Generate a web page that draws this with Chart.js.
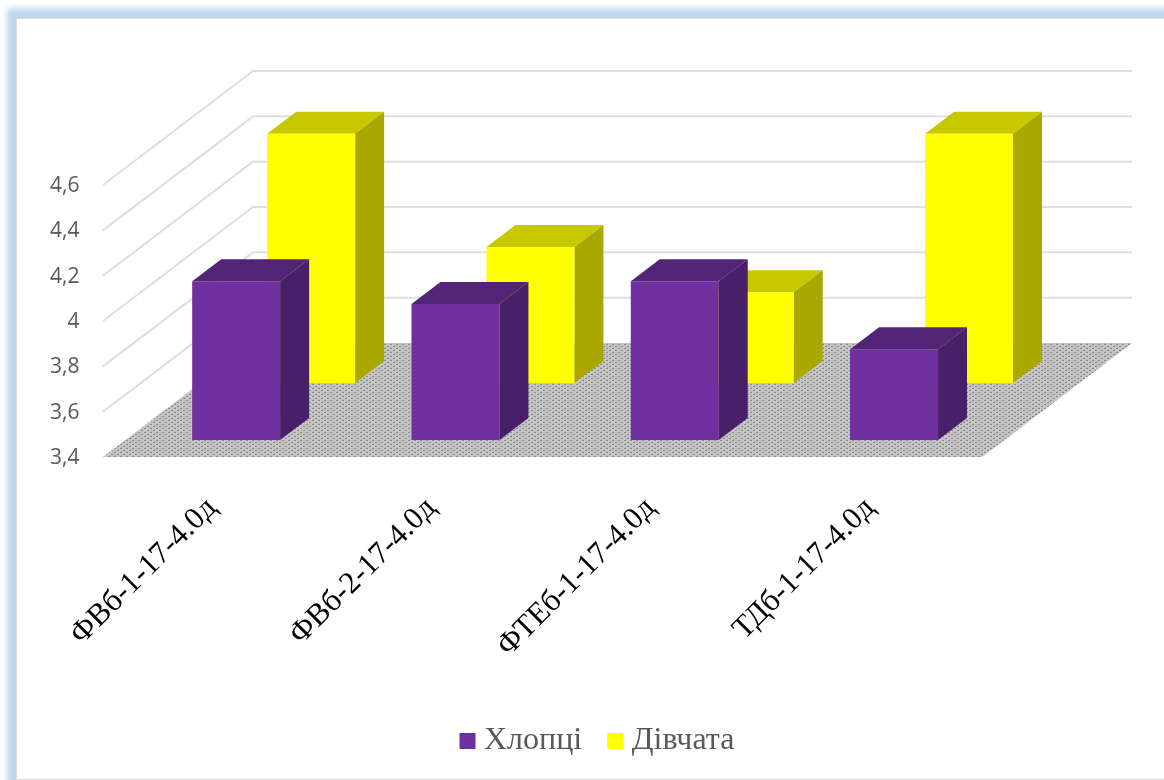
<!DOCTYPE html>
<html><head><meta charset="utf-8">
<script src="https://cdn.jsdelivr.net/npm/chart.js@4"></script>
<style>
html,body{margin:0;padding:0;background:#fff;overflow:hidden;width:1164px;height:780px}
#frame{position:absolute;left:16px;top:18px;width:1300px;height:760px;background:#fff;border:1px solid #dcdcdc;box-shadow:0 -1px 6px 9px #bed8ef}
#c{position:absolute;left:0;top:0}
</style></head><body>
<div id="frame"></div>
<canvas id="c" width="1164" height="780"></canvas>
<script>
const categories = ['ФВб-1-17-4.0д','ФВб-2-17-4.0д','ФТЕб-1-17-4.0д','ТДб-1-17-4.0д'];
const boys = [4.1,4.0,4.1,3.8];
const girls = [4.5,4.0,3.8,4.5];
const seriesNames = ['Хлопці','Дівчата'];
const yMin = 3.4, yMax = 4.6, yStep = 0.2;

const shift = [{x:0,y:-17,face:'#7030a0',side:'#481f69',top:'#522476'},
               {x:75,y:-74,face:'#ffff00',side:'#a8a800',top:'#c8c800'}];
const barDepth = {x:29,y:-22};
const floorDepth = {x:150,y:-114};

function floorPattern(ctx){
  const t=document.createElement('canvas');t.width=6;t.height=4;
  const g=t.getContext('2d');
  g.fillStyle='#c6c6c6';g.fillRect(0,0,6,4);
  g.fillStyle='#888888';
  g.fillRect(0,0,2,1);g.fillRect(3,2,2,1);
  g.fillStyle='#aeaeae';
  g.fillRect(4,1,1,1);g.fillRect(1,3,1,1);
  return ctx.createPattern(t,'repeat');
}
const scene = {
  id:'scene',
  afterLayout(chart){
    chart.legend.left = 434.5;
  },
  beforeDatasetsDraw(chart){
    const {ctx,scales:{x,y}} = chart;
    const fl = x.left-23.5, fr = x.right-21.5, b = y.getPixelForValue(yMin);
    ctx.save();
    ctx.strokeStyle='#dedede';ctx.lineWidth=2;
    y.ticks.forEach(t=>{
      if(t.value<=yMin) return;
      const p=y.getPixelForValue(t.value);
      ctx.beginPath();
      ctx.moveTo(fl,p);
      ctx.lineTo(fl+floorDepth.x,p+floorDepth.y);
      ctx.lineTo(fr+floorDepth.x,p+floorDepth.y);
      ctx.stroke();
    });
    ctx.fillStyle=floorPattern(ctx);
    ctx.beginPath();
    ctx.moveTo(fl,b);ctx.lineTo(fl+floorDepth.x,b+floorDepth.y);
    ctx.lineTo(fr+floorDepth.x,b+floorDepth.y);ctx.lineTo(fr,b);ctx.closePath();ctx.fill();
    ctx.restore();
  },
  beforeDatasetDraw(chart,args){
    const s=shift[args.index],ctx=chart.ctx;
    ctx.save();
    ctx.translate(s.x,s.y);
    chart.getDatasetMeta(args.index).data.forEach(el=>{
      const l=el.x-el.width/2,r=el.x+el.width/2,t=el.y,bt=el.base,d=barDepth;
      ctx.fillStyle=s.top;
      ctx.beginPath();ctx.moveTo(l,t);ctx.lineTo(l+d.x,t+d.y);ctx.lineTo(r+d.x,t+d.y);ctx.lineTo(r,t);ctx.closePath();ctx.fill();
      ctx.fillStyle=s.side;
      ctx.beginPath();ctx.moveTo(r,t);ctx.lineTo(r+d.x,t+d.y);ctx.lineTo(r+d.x,bt+d.y);ctx.lineTo(r,bt);ctx.closePath();ctx.fill();
    });
  },
  afterDatasetDraw(chart){chart.ctx.restore();}
};
new Chart(document.getElementById('c'),{
  type:'bar',
  data:{labels:categories,datasets:[
    {label:seriesNames[0],data:boys,base:yMin,backgroundColor:shift[0].face,borderWidth:0,clip:false},
    {label:seriesNames[1],data:girls,base:yMin,backgroundColor:shift[1].face,borderWidth:0,clip:false}
  ]},
  plugins:[scene],
  options:{
    responsive:false,animation:false,
    datasets:{bar:{grouped:false,barPercentage:0.401,categoryPercentage:1}},
    layout:{padding:{left:32,right:160.3,top:185,bottom:13}},
    plugins:{
      tooltip:{enabled:false},
      legend:{position:'bottom',align:'start',
        labels:{usePointStyle:true,pointStyle:'rect',boxWidth:1,boxHeight:16,padding:32.5,color:'#595959',
          font:{family:'"Liberation Serif"',size:32}}}
    },
    scales:{
      x:{grid:{display:false},border:{display:false},
        afterFit(s){s.height=780-457-13-s.chart.legend.height;},
        ticks:{color:'#000',font:{family:'"Liberation Serif"',size:31},minRotation:45,maxRotation:45,autoSkip:false,padding:25,labelOffset:-24}},
      y:{min:yMin,max:yMax,grid:{display:false,drawTicks:false},border:{display:false},
        afterFit(s){s.width=94.5;},
        afterBuildTicks(s){s.ticks=[3.4,3.6,3.8,4,4.2,4.4,4.6].map(v=>({value:v}));},
        ticks:{stepSize:yStep,color:'#595959',padding:47,labelOffset:1,font:{family:'"Open Sans"',size:21},
          callback:v=>String(Math.round(v*10)/10).replace('.',',')}}
    }
  }
});
</script></body></html>
